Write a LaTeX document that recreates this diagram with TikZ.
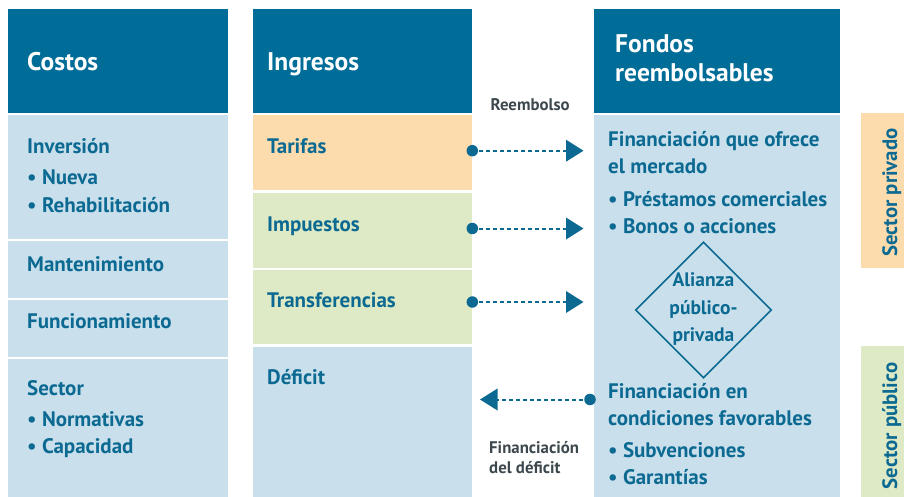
\documentclass[tikz,border=0pt]{standalone}
\usepackage{fontspec}
\setmainfont{PT Sans}
\usetikzlibrary{arrows.meta,shapes.geometric}
\definecolor{hdr}{RGB}{0,109,152}
\definecolor{lb}{RGB}{201,224,236}
\definecolor{org}{RGB}{252,219,173}
\definecolor{grn}{RGB}{221,234,197}
\definecolor{tx}{RGB}{12,106,146}
\definecolor{gry}{RGB}{60,72,78}
\tikzset{
  box/.style={anchor=north west, inner sep=0pt, outer sep=0pt, draw=none},
  hd/.style={anchor=base west, inner sep=0pt, text=white, font=\fontsize{25.5}{30}\selectfont\bfseries},
  bt/.style={anchor=base west, inner sep=0pt, text=tx, font=\fontsize{21}{25}\selectfont\bfseries},
  dt/.style={anchor=base, inner sep=0pt, text=tx, font=\fontsize{19.5}{23}\selectfont\bfseries},
  rt/.style={rotate=90, anchor=base, inner sep=0pt, text=tx, font=\fontsize{20.8}{25}\selectfont\bfseries},
  sm/.style={anchor=base west, inner sep=0pt, text=gry, font=\fontsize{16.8}{20}\selectfont\bfseries},
  dot/.style={circle, fill=tx, inner sep=0pt, minimum size=11.5pt},
  conn/.style={draw=tx, line width=2pt, dash pattern=on 4pt off 3pt, -{Triangle[length=17.5pt,width=21.5pt]}},
}
\begin{document}
\begin{tikzpicture}[x=1pt,y=-1pt]
\useasboundingbox (0,0) rectangle (904,497);
% Costos column
\node[box, fill=hdr, minimum width=220pt, minimum height=104pt] (ch) at (8,9) {};
\node[box, fill=lb, minimum width=220pt, minimum height=124pt] (cinv) at (8,115) {};
\node[box, fill=lb, minimum width=220pt, minimum height=57pt] (cman) at (8,241) {};
\node[box, fill=lb, minimum width=220pt, minimum height=57pt] (cfun) at (8,300) {};
\node[box, fill=lb, minimum width=220pt, minimum height=138pt] (csec) at (8,359) {};
% Ingresos column
\node[box, fill=hdr, minimum width=219pt, minimum height=104pt] (ih) at (253,9) {};
\node[box, fill=org, minimum width=219pt, minimum height=75pt] (itar) at (253,115) {};
\node[box, fill=grn, minimum width=219pt, minimum height=75pt] (iimp) at (253,192.5) {};
\node[box, fill=grn, minimum width=219pt, minimum height=74pt] (itra) at (253,270) {};
\node[box, fill=lb, minimum width=219pt, minimum height=150.5pt] (idef) at (253,346.5) {};
% Fondos column
\node[box, fill=hdr, minimum width=246.5pt, minimum height=104pt] (fh) at (593.5,9) {};
\node[box, fill=lb, minimum width=246.5pt, minimum height=382pt] (fb) at (593.5,115) {};
% Sector bars
\node[box, fill=org, minimum width=43pt, minimum height=155pt] (spriv) at (861,113) {};
\node[box, fill=grn, minimum width=43pt, minimum height=151pt] (spub) at (861,346) {};
\node[rt] (lpriv) at (897,192.5) {Sector privado};
\node[rt] (lpub) at (897,426) {Sector público};
% Headers
\node[hd] (tc) at (27,71) {Costos};
\node[hd] (ti) at (267,71) {Ingresos};
\node[hd] (tf1) at (615,53) {Fondos};
\node[hd] (tf2) at (615,82) {reembolsables};
% Costos texts
\node[bt] (a1) at (27,154) {Inversión};
\node[bt] (a2) at (27,185) {\textbullet\ Nueva};
\node[bt] (a3) at (27,212.5) {\textbullet\ Rehabilitación};
\node[bt] (a4) at (27,271.5) {Mantenimiento};
\node[bt] (a5) at (27,328) {Funcionamiento};
\node[bt] (a6) at (27,395) {Sector};
\node[bt] (a7) at (27,426) {\textbullet\ Normativas};
\node[bt] (a8) at (27,453) {\textbullet\ Capacidad};
% Ingresos texts
\node[bt] (b1) at (267,154) {Tarifas};
\node[bt] (b2) at (267,231) {Impuestos};
\node[bt] (b3) at (267,307) {Transferencias};
\node[bt] (b4) at (267,384) {Déficit};
% Fondos texts
\node[bt] (f1) at (608,147) {Financiación que ofrece};
\node[bt] (f2) at (608,174) {el mercado};
\node[bt] (f3) at (608,206) {\textbullet\ Préstamos comerciales};
\node[bt] (f4) at (608,233) {\textbullet\ Bonos o acciones};
\node[bt] (f5) at (608,398) {Financiación en};
\node[bt] (f6) at (608,425) {condiciones favorables};
\node[bt] (f7) at (608,457.5) {\textbullet\ Subvenciones};
\node[bt] (f8) at (608,484) {\textbullet\ Garantías};
% Diamond
\node[diamond, draw=tx, line width=1.6pt, minimum width=136pt, minimum height=136pt, inner sep=0pt] (dia) at (703.5,310) {};
\node[dt] (d1) at (703.5,286) {Alianza};
\node[dt] (d2) at (703.5,314) {público-};
\node[dt] (d3) at (703.5,341) {privada};
% Small labels
\node[sm] (lr) at (490.5,110.5) {Reembolso};
\node[sm] (lf1) at (489,453) {Financiación};
\node[sm] (lf2) at (489,473) {del déficit};
% Arrows
\coordinate (s1) at (472.3,150.7);
\coordinate (s2) at (472.3,228.5);
\coordinate (s3) at (472.3,302);
\coordinate (s4) at (590,399.5);
\coordinate (e1) at (583.5,150.7);
\coordinate (e2) at (583.5,228.5);
\coordinate (e3) at (583.5,302);
\coordinate (e4) at (480,399.5);
\draw[conn] (s1) -- (e1);
\draw[conn] (s2) -- (e2);
\draw[conn] (s3) -- (e3);
\draw[conn] (s4) -- (e4);
\node[dot] (p1) at (s1) {};
\node[dot] (p2) at (s2) {};
\node[dot] (p3) at (s3) {};
\node[dot] (p4) at (s4) {};
\end{tikzpicture}
\end{document}
